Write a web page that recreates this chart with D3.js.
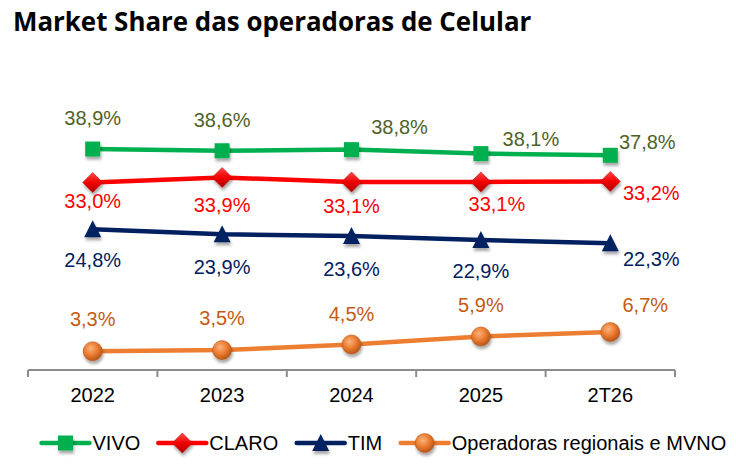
<!DOCTYPE html>
<html>
<head>
<meta charset="utf-8">
<script src="https://cdn.jsdelivr.net/npm/d3@7"></script>
<style>
  body { margin: 0; background: #fff; }
  svg { display: block; }
  text { font-family: "Liberation Sans", Arial, sans-serif; }
</style>
</head>
<body>
<div id="chart"></div>
<script>
// DATA
const categories = ["2022", "2023", "2024", "2025", "2T26"];
const vivo = [38.9, 38.6, 38.8, 38.1, 37.8];
const claro = [33.0, 33.9, 33.1, 33.1, 33.2];
const tim = [24.8, 23.9, 23.6, 22.9, 22.3];
const regionais = [3.3, 3.5, 4.5, 5.9, 6.7];
const seriesNames = ["VIVO", "CLARO", "TIM", "Operadoras regionais e MVNO"];

// label offsets (dx, dy to baseline) from each point, per series
const labelOffsets = {
  VIVO: [[0, -24], [0, -24], [48, -16], [50, -8], [37, -6]],
  CLARO: [[0, 25], [0, 35], [0, 31], [16, 29], [41, 19]],
  TIM: [[0, 38], [0, 40], [0, 40], [0, 38], [41, 23]],
  "Operadoras regionais e MVNO": [[0, -25], [0, -25], [0, -23], [0, -24], [35, -20]]
};

const width = 736, height = 468;
const margin = { left: 28, right: 61, axisY: 370, top: 114.4 };

const series = [
  { name: "VIVO", values: vivo, line: "#00b050", label: "#4f6228", marker: "square" },
  { name: "CLARO", values: claro, line: "#ff0000", label: "#ff0000", marker: "diamond" },
  { name: "TIM", values: tim, line: "#002060", label: "#002060", marker: "triangle" },
  { name: "Operadoras regionais e MVNO", values: regionais, line: "#ed7d31", label: "#c55a11", marker: "circle" }
];

const svg = d3.select("#chart").append("svg")
  .attr("width", width)
  .attr("height", height);

const defs = svg.append("defs");
const shadow = defs.append("filter").attr("id", "shadow")
  .attr("x", "-50%").attr("y", "-50%").attr("width", "200%").attr("height", "200%");
shadow.append("feDropShadow")
  .attr("dx", 1).attr("dy", 3).attr("stdDeviation", 1.8)
  .attr("flood-color", "#000").attr("flood-opacity", 0.35);

const gradOrange = defs.append("radialGradient").attr("id", "gOrange")
  .attr("cx", "40%").attr("cy", "35%").attr("r", "65%");
gradOrange.append("stop").attr("offset", "0%").attr("stop-color", "#f8b47e");
gradOrange.append("stop").attr("offset", "55%").attr("stop-color", "#ec7b30");
gradOrange.append("stop").attr("offset", "100%").attr("stop-color", "#b8581a");

const gradRed = defs.append("linearGradient").attr("id", "gRed")
  .attr("x1", "0%").attr("y1", "0%").attr("x2", "0%").attr("y2", "100%");
gradRed.append("stop").attr("offset", "0%").attr("stop-color", "#ff4a4a");
gradRed.append("stop").attr("offset", "50%").attr("stop-color", "#f00000");
gradRed.append("stop").attr("offset", "100%").attr("stop-color", "#b00000");

// title
svg.append("text")
  .attr("x", 13)
  .attr("y", 31)
  .style("font-family", "'Open Sans', Lato, sans-serif")
  .style("font-weight", "bold")
  .style("font-size", "25.9px")
  .attr("fill", "#000")
  .text("Market Share das operadoras de Celular");

const x = d3.scaleBand()
  .domain(categories)
  .range([margin.left, width - margin.right]);

const y = d3.scaleLinear()
  .domain([0, 45])
  .range([margin.axisY, margin.top]);

// x axis
const xAxis = d3.axisBottom(x).tickSize(0).tickPadding(18);
const axisG = svg.append("g")
  .attr("transform", `translate(0,${margin.axisY})`)
  .call(xAxis);
axisG.select(".domain").remove();
axisG.selectAll("text")
  .style("font-size", "20px")
  .attr("fill", "#000");

svg.append("line")
  .attr("x1", x.range()[0]).attr("x2", x.range()[1])
  .attr("y1", margin.axisY).attr("y2", margin.axisY)
  .attr("stroke", "#8c8c8c").attr("stroke-width", 2);

const bounds = categories.map(c => x(c)).concat([x.range()[1]]);
svg.append("g").selectAll("line")
  .data(bounds)
  .join("line")
  .attr("x1", d => d).attr("x2", d => d)
  .attr("y1", margin.axisY).attr("y2", margin.axisY + 7)
  .attr("stroke", "#8c8c8c").attr("stroke-width", 2);

const cx = c => x(c) + x.bandwidth() / 2;

function drawMarker(g, type, color) {
  if (type === "square") {
    g.append("rect").attr("x", -7.5).attr("y", -7.5).attr("width", 15).attr("height", 15)
      .attr("fill", color);
  } else if (type === "diamond") {
    g.append("path").attr("d", "M0,-10L10,0L0,10L-10,0Z")
      .attr("fill", "url(#gRed)").attr("stroke", "#c00000").attr("stroke-width", 0.5);
  } else if (type === "triangle") {
    g.append("path").attr("d", "M0,-9L8.5,8L-8.5,8Z")
      .attr("fill", color);
  } else {
    g.append("circle").attr("r", 9.5)
      .attr("fill", "url(#gOrange)").attr("stroke", "#b8581a").attr("stroke-width", 0.6);
  }
}

const line = d3.line()
  .x((d, i) => cx(categories[i]))
  .y(d => y(d));

series.forEach(s => {
  const g = svg.append("g");
  g.append("path")
    .datum(s.values)
    .attr("fill", "none")
    .attr("stroke", s.line)
    .attr("stroke-width", 4.5)
    .attr("d", line);

  g.selectAll("g.mk")
    .data(s.values)
    .join("g")
    .attr("class", "mk")
    .attr("filter", "url(#shadow)")
    .attr("transform", (d, i) => `translate(${cx(categories[i])},${y(d)})`)
    .each(function() { drawMarker(d3.select(this), s.marker, s.line); });

  const offs = labelOffsets[s.name];
  g.selectAll("text.lbl")
    .data(s.values)
    .join("text")
    .attr("class", "lbl")
    .attr("x", (d, i) => cx(categories[i]) + offs[i][0])
    .attr("y", (d, i) => y(d) + offs[i][1])
    .attr("text-anchor", "middle")
    .style("font-size", "20px")
    .attr("fill", s.label)
    .text(d => d.toFixed(1).replace(".", ",") + "%");
});

// legend
const legendX = [41.5, 158.3, 296.7, 400.7];
const legendY = 443;
const legend = svg.append("g");
series.forEach((s, i) => {
  const lg = legend.append("g").attr("transform", `translate(${legendX[i]},${legendY})`);
  lg.append("line")
    .attr("x1", 0).attr("x2", 48)
    .attr("stroke", s.line).attr("stroke-width", 4.5).attr("stroke-linecap", "round");
  const m = lg.append("g").attr("transform", "translate(24,0)").attr("filter", "url(#shadow)");
  drawMarker(m, s.marker, s.line);
  lg.append("text")
    .attr("x", 51)
    .attr("y", 7)
    .style("font-size", "20px")
    .attr("fill", "#000")
    .text(seriesNames[i]);
});
</script>
</body>
</html>
